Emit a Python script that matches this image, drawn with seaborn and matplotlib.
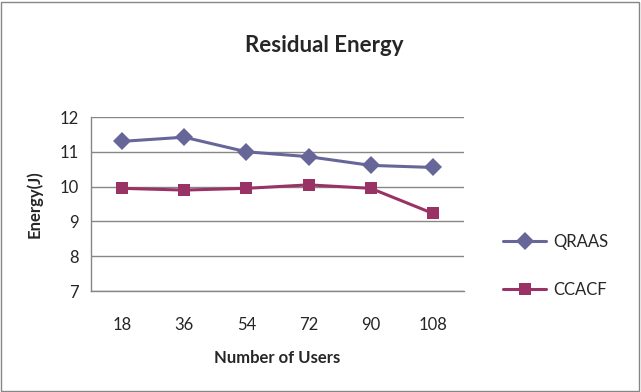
import matplotlib
matplotlib.use('Agg')

import pandas as pd
import numpy as np
import matplotlib.pyplot as plt
import seaborn as sns
from matplotlib.patches import Rectangle
from matplotlib.lines import Line2D

sns.set_style("white")
plt.rcParams['font.family'] = ['Lato', 'DejaVu Sans']

# 데이터
users = ["18", "36", "54", "72", "90", "108"]
qraas = [11.3, 11.42, 11.0, 10.86, 10.61, 10.55]
ccacf = [9.95, 9.9, 9.95, 10.05, 9.95, 9.23]
series_names = ["QRAAS", "CCACF"]
colors = ["#666699", "#993366"]

df = pd.DataFrame({
    "pos": list(range(len(users))) * 2,
    "energy": qraas + ccacf,
    "series": [series_names[0]] * len(users) + [series_names[1]] * len(users),
})

fig = plt.figure(figsize=(6.41, 3.92), dpi=100)
ax = fig.add_axes([91 / 641, 1 - 291 / 392, (464 - 91) / 641, (291 - 117) / 392])

sns.lineplot(data=df, x="pos", y="energy", hue="series", style="series",
             markers={"QRAAS": "D", "CCACF": "s"}, dashes=False,
             palette=colors, linewidth=2.2, markersize=9,
             markeredgewidth=0, ax=ax, legend=False)

ax.set_ylim(7, 12)
ax.set_yticks(np.arange(7, 13, 1))
ax.set_xlim(-0.5, len(users) - 0.5)
ax.set_xticks(np.arange(-0.5, len(users), 1))
ax.set_xticklabels([])
ax.set_xticks(np.arange(len(users)), minor=True)
ax.set_xticklabels(users, minor=True, fontsize=12)
ax.tick_params(axis='x', which='major', length=5, color='#868686', direction='out')
ax.tick_params(axis='x', which='minor', length=0, pad=19)
ax.tick_params(axis='y', length=5, color='#868686', direction='out', labelsize=12, pad=4)
ax.yaxis.grid(True, color='#868686', linewidth=1)
ax.xaxis.grid(False)
for s in ['top', 'right']:
    ax.spines[s].set_visible(False)
for s in ['left', 'bottom']:
    ax.spines[s].set_color('#868686')
    ax.spines[s].set_linewidth(1)

ax.set_xlabel("Number of Users", fontsize=12, fontweight='bold', labelpad=12)
ax.set_ylabel("Energy(J)", fontsize=12, fontweight='bold', labelpad=12)
fig.text(324 / 641, 1 - 45 / 392, "Residual Energy", ha='center', va='center',
         fontsize=16, fontweight='bold')

# 범례
handles = [Line2D([0], [0], color=colors[0], marker='D', lw=2.2, ms=9, mew=0),
           Line2D([0], [0], color=colors[1], marker='s', lw=2.2, ms=9, mew=0)]
fig.legend(handles, series_names, loc='center left',
           bbox_to_anchor=(488 / 641, 1 - 266 / 392), frameon=False,
           fontsize=12, labelspacing=1.9, handlelength=2.6, handletextpad=0.4)

fig.patches.append(Rectangle((0.002, 0.003), 0.995, 0.993, transform=fig.transFigure,
                             fill=False, edgecolor='#868686', linewidth=1))

plt.savefig("out.png", dpi=100)
plt.close()
